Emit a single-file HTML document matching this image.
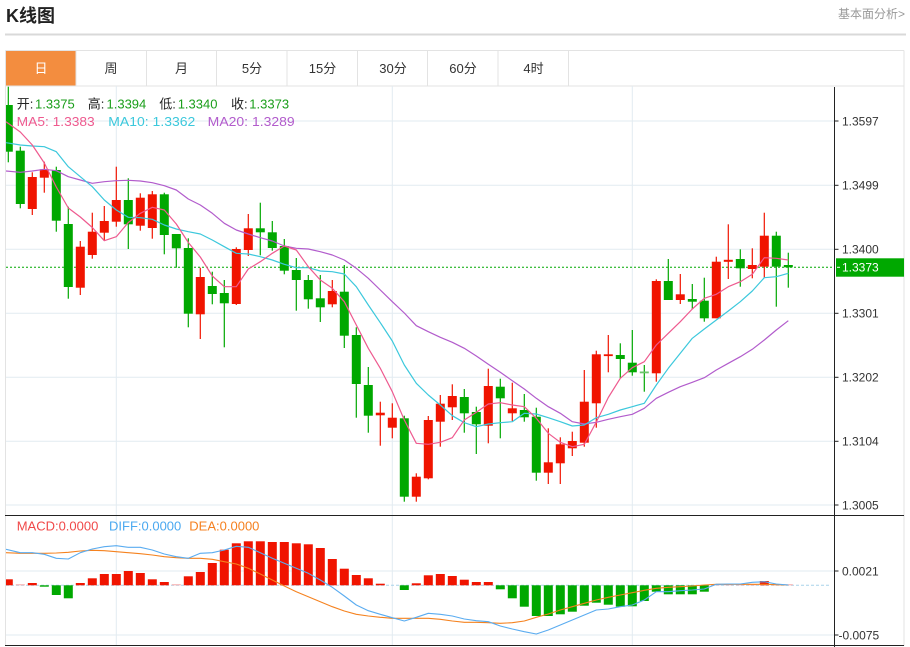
<!DOCTYPE html>
<html><head><meta charset="utf-8"><style>
html,body{margin:0;padding:0;background:#fff;}
svg{display:block;font-family:"Liberation Sans","Noto Sans CJK SC",sans-serif;}
</style></head><body>
<svg width="910" height="647" viewBox="0 0 910 647" xmlns="http://www.w3.org/2000/svg">
<defs><clipPath id="pc"><rect x="6" y="86" width="828" height="429"/></clipPath>
<clipPath id="mc"><rect x="6" y="516" width="828" height="129"/></clipPath></defs>
<rect width="910" height="647" fill="#fff"/>
<text x="6" y="22" font-size="18" font-weight="bold" fill="#222">K线图</text>
<text x="905" y="18" font-size="12" fill="#999" text-anchor="end">基本面分析&gt;</text>
<line x1="5" y1="34.5" x2="906" y2="34.5" stroke="#d9d9d9" stroke-width="2"/>
<rect x="5.8" y="50.5" width="70.4" height="35.5" fill="#f38d3f"/>
<g stroke="#e3e3e3" stroke-width="1">
<line x1="5.5" y1="50.5" x2="904" y2="50.5"/>
<line x1="5.5" y1="86" x2="904" y2="86"/>
<line x1="76" y1="50.5" x2="76" y2="86"/>
<line x1="146.5" y1="50.5" x2="146.5" y2="86"/>
<line x1="216.5" y1="50.5" x2="216.5" y2="86"/>
<line x1="287" y1="50.5" x2="287" y2="86"/>
<line x1="357.5" y1="50.5" x2="357.5" y2="86"/>
<line x1="427.5" y1="50.5" x2="427.5" y2="86"/>
<line x1="498" y1="50.5" x2="498" y2="86"/>
<line x1="568.5" y1="50.5" x2="568.5" y2="86"/>
<line x1="5.5" y1="50.5" x2="5.5" y2="646"/>
<line x1="904" y1="50.5" x2="904" y2="646"/>
</g>
<g font-size="13" fill="#333" text-anchor="middle">
<text x="41" y="73" fill="#fff">日</text>
<text x="111" y="73">周</text>
<text x="181.5" y="73">月</text>
<text x="252" y="73">5分</text>
<text x="322.5" y="73">15分</text>
<text x="393" y="73">30分</text>
<text x="463" y="73">60分</text>
<text x="533.5" y="73">4时</text>
</g>
<g stroke="#e2ebf1" stroke-width="1">
<line x1="6" y1="121" x2="834" y2="121"/>
<line x1="6" y1="185.3" x2="834" y2="185.3"/>
<line x1="6" y1="249.3" x2="834" y2="249.3"/>
<line x1="6" y1="313.3" x2="834" y2="313.3"/>
<line x1="6" y1="377.3" x2="834" y2="377.3"/>
<line x1="6" y1="441.3" x2="834" y2="441.3"/>
<line x1="6" y1="505" x2="834" y2="505"/>
<line x1="6" y1="571" x2="834" y2="571"/>
<line x1="6" y1="635" x2="834" y2="635"/>
<line x1="116.3" y1="86" x2="116.3" y2="645"/>
<line x1="392.3" y1="86" x2="392.3" y2="645"/>
<line x1="632.3" y1="86" x2="632.3" y2="645"/>
</g>
<g stroke="#222" stroke-width="1">
<line x1="834.5" y1="87" x2="834.5" y2="647"/>
<line x1="5" y1="515.5" x2="904" y2="515.5"/>
<line x1="5" y1="645.5" x2="904" y2="645.5"/>
<line x1="834.5" y1="121" x2="838.5" y2="121"/>
<line x1="834.5" y1="185.3" x2="838.5" y2="185.3"/>
<line x1="834.5" y1="249.3" x2="838.5" y2="249.3"/>
<line x1="834.5" y1="313.3" x2="838.5" y2="313.3"/>
<line x1="834.5" y1="377.3" x2="838.5" y2="377.3"/>
<line x1="834.5" y1="441.3" x2="838.5" y2="441.3"/>
<line x1="834.5" y1="505" x2="838.5" y2="505"/>
<line x1="834.5" y1="571" x2="838.5" y2="571"/>
<line x1="834.5" y1="635" x2="838.5" y2="635"/>
</g>
<g font-size="12" fill="#333">
<text x="842" y="125.3">1.3597</text>
<text x="842" y="189.6">1.3499</text>
<text x="842" y="253.6">1.3400</text>
<text x="842" y="317.6">1.3301</text>
<text x="842" y="381.6">1.3202</text>
<text x="842" y="445.6">1.3104</text>
<text x="842" y="509.3">1.3005</text>
<text x="842" y="575.3">0.0021</text>
<text x="838.5" y="639.3">-0.0075</text>
</g>
<line x1="6" y1="267.3" x2="834" y2="267.3" stroke="#00a800" stroke-width="1" stroke-dasharray="2,2"/>
<rect x="836" y="258.3" width="68" height="18.4" fill="#00a800"/>
<line x1="837" y1="267.3" x2="840" y2="267.3" stroke="#fff"/>
<text x="842" y="271.6" font-size="12" fill="#fff">1.3373</text>

<g clip-path="url(#pc)">
<g stroke="#00a800" stroke-width="1.2" fill="#00a800">
<line x1="8.3" y1="86.7" x2="8.3" y2="162.3"/><rect x="3.8" y="105" width="9" height="46.7" stroke="none"/>
<line x1="20.3" y1="146.7" x2="20.3" y2="208.3"/><rect x="15.8" y="150.7" width="9" height="53.3" stroke="none"/>
<line x1="56.3" y1="166.7" x2="56.3" y2="231.7"/><rect x="51.8" y="170" width="9" height="50.7" stroke="none"/>
<line x1="68.3" y1="206.7" x2="68.3" y2="298.7"/><rect x="63.8" y="224" width="9" height="63" stroke="none"/>
<line x1="128.3" y1="178.3" x2="128.3" y2="249"/><rect x="123.8" y="200" width="9" height="24.3" stroke="none"/>
<line x1="164.3" y1="192.7" x2="164.3" y2="254.3"/><rect x="159.8" y="194.3" width="9" height="40.7" stroke="none"/>
<line x1="176.3" y1="234" x2="176.3" y2="267.7"/><rect x="171.8" y="234" width="9" height="14.3" stroke="none"/>
<line x1="188.3" y1="238.3" x2="188.3" y2="327.3"/><rect x="183.8" y="248" width="9" height="65.7" stroke="none"/>
<line x1="212.3" y1="271.7" x2="212.3" y2="304.3"/><rect x="207.8" y="286" width="9" height="8" stroke="none"/>
<line x1="224.3" y1="280" x2="224.3" y2="347.3"/><rect x="219.8" y="293" width="9" height="10.3" stroke="none"/>
<line x1="260.3" y1="202.7" x2="260.3" y2="255.3"/><rect x="255.8" y="228.3" width="9" height="4" stroke="none"/>
<line x1="272.3" y1="221" x2="272.3" y2="250.7"/><rect x="267.8" y="232.3" width="9" height="15.7" stroke="none"/>
<line x1="284.3" y1="239" x2="284.3" y2="274.3"/><rect x="279.8" y="246" width="9" height="24.7" stroke="none"/>
<line x1="296.3" y1="258" x2="296.3" y2="310.7"/><rect x="291.8" y="270" width="9" height="10" stroke="none"/>
<line x1="308.3" y1="275" x2="308.3" y2="308.7"/><rect x="303.8" y="280" width="9" height="19.3" stroke="none"/>
<line x1="320.3" y1="275" x2="320.3" y2="322"/><rect x="315.8" y="298.3" width="9" height="9" stroke="none"/>
<line x1="344.3" y1="265" x2="344.3" y2="348"/><rect x="339.8" y="291.7" width="9" height="44" stroke="none"/>
<line x1="356.3" y1="327.3" x2="356.3" y2="417.7"/><rect x="351.8" y="335" width="9" height="49" stroke="none"/>
<line x1="368.3" y1="367" x2="368.3" y2="432.7"/><rect x="363.8" y="385" width="9" height="30.7" stroke="none"/>
<line x1="404.3" y1="415.7" x2="404.3" y2="501.7"/><rect x="399.8" y="418.3" width="9" height="78.4" stroke="none"/>
<line x1="464.3" y1="389" x2="464.3" y2="432.7"/><rect x="459.8" y="397" width="9" height="16.3" stroke="none"/>
<line x1="476.3" y1="406.7" x2="476.3" y2="454"/><rect x="471.8" y="412" width="9" height="12.3" stroke="none"/>
<line x1="500.3" y1="378.7" x2="500.3" y2="438.3"/><rect x="495.8" y="386.7" width="9" height="11.6" stroke="none"/>
<line x1="524.3" y1="394" x2="524.3" y2="421.7"/><rect x="519.8" y="410" width="9" height="7.3" stroke="none"/>
<line x1="536.3" y1="407.7" x2="536.3" y2="480.7"/><rect x="531.8" y="416.7" width="9" height="56" stroke="none"/>
<line x1="620.3" y1="343.3" x2="620.3" y2="378.3"/><rect x="615.8" y="355" width="9" height="4" stroke="none"/>
<line x1="632.3" y1="330" x2="632.3" y2="375.7"/><rect x="627.8" y="362.7" width="9" height="9.6" stroke="none"/>
<line x1="668.3" y1="259" x2="668.3" y2="300"/><rect x="663.8" y="281" width="9" height="19" stroke="none"/>
<line x1="692.3" y1="284" x2="692.3" y2="309"/><rect x="687.8" y="299" width="9" height="2.7" stroke="none"/>
<line x1="704.3" y1="277.7" x2="704.3" y2="321.7"/><rect x="699.8" y="300.7" width="9" height="17.6" stroke="none"/>
<line x1="740.3" y1="249.3" x2="740.3" y2="286.7"/><rect x="735.8" y="259" width="9" height="9.3" stroke="none"/>
<line x1="776.3" y1="231.7" x2="776.3" y2="306.7"/><rect x="771.8" y="235.7" width="9" height="31" stroke="none"/>
<line x1="788.3" y1="252.7" x2="788.3" y2="287.7"/><rect x="783.8" y="265" width="9" height="2.3" stroke="none"/>
<line x1="644.3" y1="365" x2="644.3" y2="391.7"/>
</g>
<rect x="639.8" y="371.5" width="9" height="1.8" fill="#6cc46c"/>
<g stroke="#f01400" stroke-width="1.2" fill="#f01400">
<line x1="32.3" y1="172.3" x2="32.3" y2="215"/><rect x="27.8" y="177" width="9" height="32" stroke="none"/>
<line x1="44.3" y1="161.7" x2="44.3" y2="192.7"/><rect x="39.8" y="169.3" width="9" height="8.4" stroke="none"/>
<line x1="80.3" y1="241" x2="80.3" y2="295"/><rect x="75.8" y="246.7" width="9" height="41" stroke="none"/>
<line x1="92.3" y1="212.7" x2="92.3" y2="258.7"/><rect x="87.8" y="231.7" width="9" height="23.3" stroke="none"/>
<line x1="104.3" y1="206" x2="104.3" y2="240.7"/><rect x="99.8" y="221" width="9" height="11.7" stroke="none"/>
<line x1="116.3" y1="166.7" x2="116.3" y2="226.7"/><rect x="111.8" y="200" width="9" height="21.7" stroke="none"/>
<line x1="140.3" y1="193.3" x2="140.3" y2="230.7"/><rect x="135.8" y="197.7" width="9" height="28" stroke="none"/>
<line x1="152.3" y1="191" x2="152.3" y2="238.7"/><rect x="147.8" y="194.3" width="9" height="33.7" stroke="none"/>
<line x1="200.3" y1="267.7" x2="200.3" y2="339"/><rect x="195.8" y="277" width="9" height="37.3" stroke="none"/>
<line x1="236.3" y1="247.3" x2="236.3" y2="305"/><rect x="231.8" y="249" width="9" height="55" stroke="none"/>
<line x1="248.3" y1="214" x2="248.3" y2="256"/><rect x="243.8" y="228.3" width="9" height="21.7" stroke="none"/>
<line x1="332.3" y1="280" x2="332.3" y2="307.3"/><rect x="327.8" y="291" width="9" height="13.3" stroke="none"/>
<line x1="380.3" y1="401.7" x2="380.3" y2="445.7"/><rect x="375.8" y="412.7" width="9" height="2.6" stroke="none"/>
<line x1="392.3" y1="403.3" x2="392.3" y2="438.3"/><rect x="387.8" y="417.7" width="9" height="10" stroke="none"/>
<line x1="416.3" y1="473.3" x2="416.3" y2="501.7"/><rect x="411.8" y="476.7" width="9" height="20" stroke="none"/>
<line x1="428.3" y1="416" x2="428.3" y2="479.3"/><rect x="423.8" y="420" width="9" height="58.3" stroke="none"/>
<line x1="440.3" y1="395" x2="440.3" y2="446.7"/><rect x="435.8" y="403.7" width="9" height="18" stroke="none"/>
<line x1="452.3" y1="384.3" x2="452.3" y2="420"/><rect x="447.8" y="396" width="9" height="11.3" stroke="none"/>
<line x1="488.3" y1="368.7" x2="488.3" y2="443.3"/><rect x="483.8" y="386" width="9" height="39.7" stroke="none"/>
<line x1="512.3" y1="382.7" x2="512.3" y2="421"/><rect x="507.8" y="408.3" width="9" height="5" stroke="none"/>
<line x1="548.3" y1="428.3" x2="548.3" y2="484"/><rect x="543.8" y="462.3" width="9" height="10.4" stroke="none"/>
<line x1="560.3" y1="437.3" x2="560.3" y2="484"/><rect x="555.8" y="444.3" width="9" height="19" stroke="none"/>
<line x1="572.3" y1="431.7" x2="572.3" y2="456"/><rect x="567.8" y="441" width="9" height="7.3" stroke="none"/>
<line x1="584.3" y1="370" x2="584.3" y2="446.7"/><rect x="579.8" y="401.7" width="9" height="41" stroke="none"/>
<line x1="596.3" y1="350.7" x2="596.3" y2="427.7"/><rect x="591.8" y="354.3" width="9" height="49" stroke="none"/>
<line x1="608.3" y1="335" x2="608.3" y2="372.3"/><rect x="603.8" y="354.3" width="9" height="1.8" stroke="none"/>
<line x1="656.3" y1="279.3" x2="656.3" y2="381.7"/><rect x="651.8" y="281" width="9" height="92.3" stroke="none"/>
<line x1="680.3" y1="274" x2="680.3" y2="304"/><rect x="675.8" y="294.3" width="9" height="5.7" stroke="none"/>
<line x1="716.3" y1="256.7" x2="716.3" y2="318.3"/><rect x="711.8" y="261.7" width="9" height="56.6" stroke="none"/>
<line x1="728.3" y1="224.3" x2="728.3" y2="279"/><rect x="723.8" y="259.8" width="9" height="2" stroke="none"/>
<line x1="752.3" y1="248.3" x2="752.3" y2="278.3"/><rect x="747.8" y="265" width="9" height="4" stroke="none"/>
<line x1="764.3" y1="212.7" x2="764.3" y2="277.7"/><rect x="759.8" y="235.7" width="9" height="31" stroke="none"/>
</g>
<g fill="none" stroke-width="1.2" stroke-linejoin="round">
<polyline stroke="#b25ccc" points="6,171 20.3,172.3 32.3,171 44.3,169.3 56.3,170.7 68.3,176.7 80.3,180 92.3,183.3 104.3,181.7 116.3,180.7 128.3,180.3 140.3,181 152.3,182.7 164.3,185.7 176.3,190 188.3,199 200.3,205 212.3,213.3 224.3,223.3 236.3,230 248.3,234 260.3,237.7 272.3,241 284.3,246 296.3,248.3 308.3,249 320.3,251.7 332.3,255 344.3,260 356.3,268.3 368.3,278.3 380.3,290 392.3,301.7 404.3,313 416.3,325.7 428.3,331.7 440.3,337.3 452.3,342.3 464.3,348.3 476.3,356 488.3,364.3 500.3,372.3 512.3,380.7 524.3,389 536.3,398.3 548.3,406.7 560.3,413.3 572.3,421.7 584.3,424 596.3,422.3 608.3,419.3 620.3,416.7 632.3,414.3 644.3,408.3 656.3,398.3 668.3,392.3 680.3,386.7 692.3,382.3 704.3,377.7 716.3,370 728.3,363.3 740.3,356.7 752.3,349.3 764.3,340 776.3,330 788.3,320.7"/>
<polyline stroke="#3cc8dc" points="6,142.7 20.3,145 32.3,146 44.3,146.7 56.3,151.7 68.3,166.7 80.3,176.7 92.3,186.7 104.3,200 116.3,210 128.3,217.3 140.3,217.7 152.3,219.3 164.3,225 176.3,229 188.3,231.7 200.3,234 212.3,240 224.3,246.7 236.3,253.3 248.3,254 260.3,256.7 272.3,260 284.3,264.3 296.3,267.7 308.3,267.7 320.3,271 332.3,271.7 344.3,274 356.3,286.7 368.3,305 380.3,322.7 392.3,341 404.3,365 416.3,383.3 428.3,395 440.3,405 452.3,415.7 464.3,422.7 476.3,426.7 488.3,424 500.3,422.7 512.3,421.7 524.3,413.3 536.3,414 548.3,417.7 560.3,421.7 572.3,426 584.3,425 596.3,417.7 608.3,414.3 620.3,410 632.3,406.7 644.3,403.3 656.3,385 668.3,368.3 680.3,353.3 692.3,338.3 704.3,329 716.3,320 728.3,311 740.3,301.7 752.3,291 764.3,277.7 776.3,276.7 788.3,273.3"/>
<polyline stroke="#ee5a8f" points="6,121.7 20.3,132 32.3,145 44.3,163 56.3,187 68.3,208 80.3,217 92.3,227.5 104.3,240.7 116.3,236.7 128.3,222.5 140.3,213.3 152.3,207.3 164.3,210 176.3,224 188.3,242.5 200.3,257 212.3,276 224.3,286.7 236.3,286.7 248.3,269 260.3,261.7 272.3,253.3 284.3,246 296.3,250 308.3,266.7 320.3,280 332.3,288.3 344.3,301.7 356.3,325 368.3,348.3 380.3,368.3 392.3,391.7 404.3,420 416.3,443.3 428.3,444.3 440.3,442.3 452.3,437.7 464.3,420 476.3,412.3 488.3,404 500.3,402.7 512.3,405 524.3,406.7 536.3,418.3 548.3,433.3 560.3,442.3 572.3,446.7 584.3,444.3 596.3,422 608.3,397.5 620.3,378.3 632.3,367.7 644.3,361.7 656.3,345 668.3,333.3 680.3,321.7 692.3,309 704.3,298.3 716.3,294.3 728.3,286.7 740.3,281.7 752.3,274.3 764.3,257.7 776.3,258.3 788.3,260"/>
</g>
</g>
<g font-size="13">
<text x="16.7" y="108.3" fill="#222">开:</text><text x="35" y="108.3" fill="#1a9e1a">1.3375</text>
<text x="87.7" y="108.3" fill="#222">高:</text><text x="106.5" y="108.3" fill="#1a9e1a">1.3394</text>
<text x="159.3" y="108.3" fill="#222">低:</text><text x="177.7" y="108.3" fill="#1a9e1a">1.3340</text>
<text x="231" y="108.3" fill="#222">收:</text><text x="249.3" y="108.3" fill="#1a9e1a">1.3373</text>
<text x="16.7" y="126" fill="#ee5a8f" textLength="78" lengthAdjust="spacingAndGlyphs">MA5: 1.3383</text>
<text x="108.3" y="126" fill="#3cc8dc" textLength="87" lengthAdjust="spacingAndGlyphs">MA10: 1.3362</text>
<text x="207.7" y="126" fill="#b25ccc" textLength="87" lengthAdjust="spacingAndGlyphs">MA20: 1.3289</text>
</g>
<line x1="6" y1="585.3" x2="831" y2="585.3" stroke="#a9d3ea" stroke-width="1" stroke-dasharray="3,2"/>
<g clip-path="url(#mc)">
<g fill="#f01400">
<rect x="3.8" y="579.3" width="9" height="6"/>
<rect x="27.8" y="583" width="9" height="2.3"/>
<rect x="75.8" y="583" width="9" height="2.3"/>
<rect x="87.8" y="578.3" width="9" height="7"/>
<rect x="99.8" y="574" width="9" height="11.3"/>
<rect x="111.8" y="574" width="9" height="11.3"/>
<rect x="123.8" y="571" width="9" height="14.3"/>
<rect x="135.8" y="573" width="9" height="12.3"/>
<rect x="147.8" y="579.3" width="9" height="6"/>
<rect x="159.8" y="582" width="9" height="3.3"/>
<rect x="183.8" y="576.3" width="9" height="9"/>
<rect x="195.8" y="572" width="9" height="13.3"/>
<rect x="207.8" y="563" width="9" height="22.3"/>
<rect x="219.8" y="549.7" width="9" height="35.6"/>
<rect x="231.8" y="543.3" width="9" height="42"/>
<rect x="243.8" y="541.3" width="9" height="44"/>
<rect x="255.8" y="541.3" width="9" height="44"/>
<rect x="267.8" y="542" width="9" height="43.3"/>
<rect x="279.8" y="542" width="9" height="43.3"/>
<rect x="291.8" y="543.3" width="9" height="42"/>
<rect x="303.8" y="544.3" width="9" height="41"/>
<rect x="315.8" y="548" width="9" height="37.3"/>
<rect x="327.8" y="559" width="9" height="26.3"/>
<rect x="339.8" y="568.7" width="9" height="16.6"/>
<rect x="351.8" y="575" width="9" height="10.3"/>
<rect x="363.8" y="578.3" width="9" height="7"/>
<rect x="375.8" y="583.7" width="9" height="1.6"/>
<rect x="411.8" y="583.3" width="9" height="2"/>
<rect x="423.8" y="575.3" width="9" height="10"/>
<rect x="435.8" y="574" width="9" height="11.3"/>
<rect x="447.8" y="576" width="9" height="9.3"/>
<rect x="459.8" y="579.7" width="9" height="5.6"/>
<rect x="471.8" y="582" width="9" height="3.3"/>
<rect x="483.8" y="582" width="9" height="3.3"/>
<rect x="759.8" y="581" width="9" height="4.3"/>
</g>
<g fill="#f5a5a5">
<rect x="15.8" y="584.3" width="9" height="1"/>
<rect x="171.8" y="584.3" width="9" height="1"/>
<rect x="711.8" y="584.3" width="9" height="1"/>
<rect x="723.8" y="584.3" width="9" height="1"/>
<rect x="735.8" y="584.3" width="9" height="1"/>
<rect x="747.8" y="584.3" width="9" height="1"/>
<rect x="771.8" y="584.3" width="9" height="1"/>
<rect x="783.8" y="584.3" width="9" height="1"/>
</g>
<g fill="#00a800">
<rect x="39.8" y="585.3" width="9" height="1.4"/>
<rect x="51.8" y="585.3" width="9" height="9.7"/>
<rect x="63.8" y="585.3" width="9" height="13"/>
<rect x="399.8" y="585.3" width="9" height="4.7"/>
<rect x="495.8" y="585.3" width="9" height="4"/>
<rect x="507.8" y="585.3" width="9" height="13"/>
<rect x="519.8" y="585.3" width="9" height="21.4"/>
<rect x="531.8" y="585.3" width="9" height="30.7"/>
<rect x="543.8" y="585.3" width="9" height="30.7"/>
<rect x="555.8" y="585.3" width="9" height="29"/>
<rect x="567.8" y="585.3" width="9" height="26.4"/>
<rect x="579.8" y="585.3" width="9" height="20.4"/>
<rect x="591.8" y="585.3" width="9" height="17.4"/>
<rect x="603.8" y="585.3" width="9" height="19.4"/>
<rect x="615.8" y="585.3" width="9" height="21.4"/>
<rect x="627.8" y="585.3" width="9" height="21"/>
<rect x="639.8" y="585.3" width="9" height="15.7"/>
<rect x="651.8" y="585.3" width="9" height="6.4"/>
<rect x="663.8" y="585.3" width="9" height="9"/>
<rect x="675.8" y="585.3" width="9" height="9"/>
<rect x="687.8" y="585.3" width="9" height="9"/>
<rect x="699.8" y="585.3" width="9" height="6.4"/>
</g>
<g fill="none" stroke-width="1.1" stroke-linejoin="round">
<polyline stroke="#f5821f" points="6,552.7 20.3,553.3 32.3,553.3 44.3,553.3 56.3,553 68.3,552.3 80.3,551 92.3,550.3 104.3,550.7 116.3,551.7 128.3,552.7 140.3,553.7 152.3,555 164.3,556.7 176.3,557.7 188.3,558.3 200.3,558.3 212.3,559.3 224.3,561.7 236.3,564 248.3,568.3 260.3,574 272.3,580 284.3,586 296.3,591.7 308.3,596.7 320.3,601.7 332.3,606.7 344.3,611 356.3,614.3 368.3,616 380.3,617.3 392.3,618.3 404.3,618.3 416.3,618.3 428.3,618.3 440.3,619.3 452.3,621 464.3,622.3 476.3,622.3 488.3,622.7 500.3,623.3 512.3,622.7 524.3,621 536.3,617.3 548.3,614 560.3,610 572.3,606.7 584.3,603.3 596.3,600 608.3,597.3 620.3,595 632.3,592.7 644.3,590.3 656.3,588.3 668.3,587.3 680.3,586.7 692.3,586 704.3,585 716.3,584.3 728.3,584.3 740.3,584.3 752.3,584.3 764.3,584.3 776.3,584.7 788.3,585"/>
<polyline stroke="#5aacf0" points="6,549.3 20.3,552.7 32.3,552.7 44.3,554.3 56.3,558.3 68.3,559 80.3,552.7 92.3,549 104.3,546.7 116.3,545.7 128.3,547.3 140.3,547.3 152.3,550 164.3,554 176.3,556.7 188.3,558.3 200.3,553.3 212.3,552.7 224.3,550 236.3,546.3 248.3,547.3 260.3,552.7 272.3,558.3 284.3,563.3 296.3,568.3 308.3,573.3 320.3,580 332.3,587.3 344.3,596 356.3,605 368.3,610.7 380.3,614.3 392.3,617.7 404.3,621 416.3,617.3 428.3,613.3 440.3,614.3 452.3,616 464.3,619 476.3,620.7 488.3,621.7 500.3,626 512.3,629 524.3,631.7 536.3,634 548.3,630 560.3,625 572.3,620 584.3,615 596.3,610 608.3,609 620.3,606.7 632.3,605 644.3,600 656.3,591.7 668.3,591.7 680.3,590.7 692.3,590 704.3,589 716.3,584.3 728.3,584 740.3,584 752.3,582.3 764.3,581.7 776.3,584 788.3,585"/>
</g>
</g>
<g font-size="13">
<text x="16.7" y="530.7" fill="#f04848">MACD:0.0000</text>
<text x="109" y="530.7" fill="#4aa8f0">DIFF:0.0000</text>
<text x="189.3" y="530.7" fill="#f58020">DEA:0.0000</text>
</g>
</svg>
</body></html>
